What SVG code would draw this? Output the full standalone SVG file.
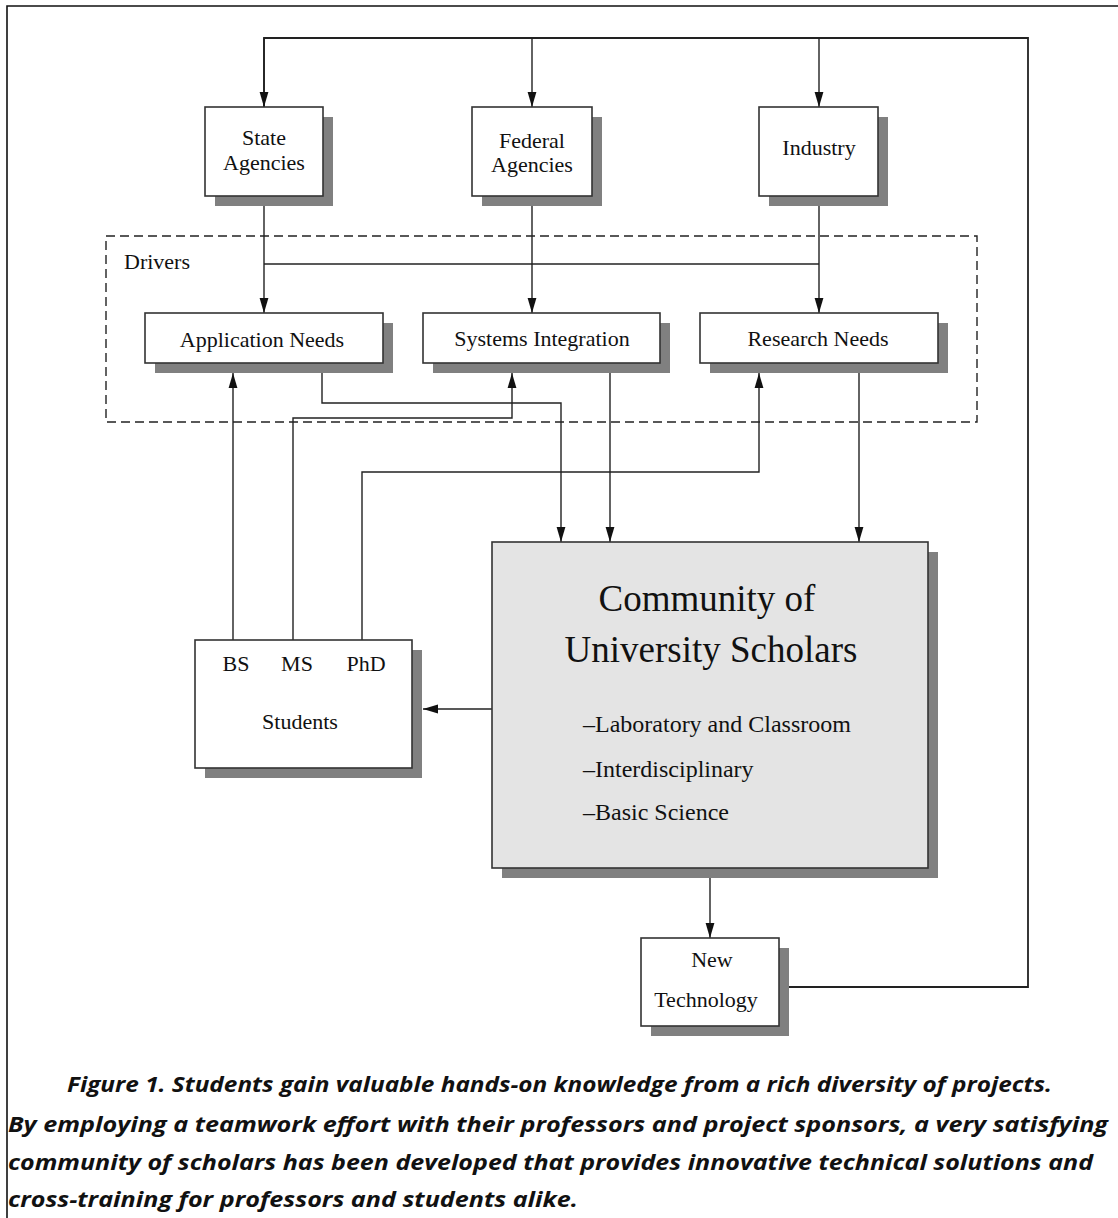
<svg xmlns="http://www.w3.org/2000/svg" width="1118" height="1218" viewBox="0 0 1118 1218">
<defs>
<marker id="ah" markerUnits="userSpaceOnUse" markerWidth="15" markerHeight="10" refX="15" refY="5" orient="auto" viewBox="0 0 15 10">
<path d="M0,0.6 L15,5 L0,9.4 Z" fill="#111"/>
</marker>
</defs>
<style>
.box{fill:#fff;stroke:#333;stroke-width:1.6}
.shadow{fill:#808080}
.lbl{font-family:"Liberation Serif","Times New Roman",serif;font-size:22px;fill:#111;text-anchor:middle}
.conn{fill:none;stroke:#222;stroke-width:1.4}
.arr{marker-end:url(#ah)}
.cap{font-family:"Open Sans","Liberation Sans",sans-serif;font-weight:700;font-style:italic;font-size:21px;fill:#111}
</style>
<rect width="1118" height="1218" fill="#fff"/>
<g id="frame" fill="none" stroke="#111" stroke-width="1.6">
<path d="M7,1218 L7,6 L1118,6"/>
</g>
<g id="drivers">
<rect x="106" y="236" width="871" height="186" fill="none" stroke="#222" stroke-width="1.4" stroke-dasharray="9,5"/>
<text class="lbl" x="124" y="269" style="text-anchor:start">Drivers</text>
</g>
<g id="connectors">
<path class="conn" d="M264,107 L264,38 L1028,38 L1028,987 L789,987" style="stroke-width:1.8"/>
<path class="conn arr" d="M264,38 L264,107"/>
<path class="conn arr" d="M532,38 L532,107"/>
<path class="conn arr" d="M819,38 L819,107"/>
<path class="conn" d="M264,264 L819,264"/>
<path class="conn arr" d="M264,196 L264,313"/>
<path class="conn arr" d="M532,196 L532,313"/>
<path class="conn arr" d="M819,196 L819,313"/>
<path class="conn arr" d="M233,641 L233,373"/>
<path class="conn arr" d="M293,641 L293,418 L512,418 L512,373"/>
<path class="conn arr" d="M362,641 L362,472 L759,472 L759,373"/>
<path class="conn arr" d="M322,363 L322,403 L561,403 L561,542"/>
<path class="conn arr" d="M610,363 L610,542"/>
<path class="conn arr" d="M859,363 L859,542"/>
<path class="conn arr" d="M492,709 L423,709"/>
<path class="conn arr" d="M710,878 L710,938"/>
</g>
<g id="state-agencies">
<rect class="shadow" x="215" y="117" width="118" height="89"/>
<rect class="box" x="205" y="107" width="118" height="89"/>
<text class="lbl" x="264" y="145">State</text>
<text class="lbl" x="264" y="170">Agencies</text>
</g>
<g id="federal-agencies">
<rect class="shadow" x="482" y="117" width="120" height="89"/>
<rect class="box" x="472" y="107" width="120" height="89"/>
<text class="lbl" x="532" y="148">Federal</text>
<text class="lbl" x="532" y="172">Agencies</text>
</g>
<g id="industry">
<rect class="shadow" x="769" y="117" width="119" height="89"/>
<rect class="box" x="759" y="107" width="119" height="89"/>
<text class="lbl" x="819" y="155">Industry</text>
</g>
<g id="application-needs">
<rect class="shadow" x="155" y="323" width="238" height="50"/>
<rect class="box" x="145" y="313" width="238" height="50"/>
<text class="lbl" x="262" y="347">Application Needs</text>
</g>
<g id="systems-integration">
<rect class="shadow" x="433" y="323" width="237" height="50"/>
<rect class="box" x="423" y="313" width="237" height="50"/>
<text class="lbl" x="542" y="346">Systems Integration</text>
</g>
<g id="research-needs">
<rect class="shadow" x="710" y="323" width="238" height="50"/>
<rect class="box" x="700" y="313" width="238" height="50"/>
<text class="lbl" x="818" y="346">Research Needs</text>
</g>
<g id="community">
<rect class="shadow" x="502" y="552" width="436" height="326"/>
<rect class="box" x="492" y="542" width="436" height="326" style="fill:#e4e4e4"/>
<text class="lbl" x="707" y="611" style="font-size:37px">Community of</text>
<text class="lbl" x="711" y="662" style="font-size:37px">University Scholars</text>
<text class="lbl" x="583" y="732" style="text-anchor:start;font-size:24px">–Laboratory and Classroom</text>
<text class="lbl" x="583" y="777" style="text-anchor:start;font-size:24px">–Interdisciplinary</text>
<text class="lbl" x="583" y="820" style="text-anchor:start;font-size:24px">–Basic Science</text>
</g>
<g id="students">
<rect class="shadow" x="205" y="650" width="217" height="128"/>
<rect class="box" x="195" y="640" width="217" height="128"/>
<text class="lbl" x="236" y="671">BS</text>
<text class="lbl" x="297" y="671">MS</text>
<text class="lbl" x="366" y="671">PhD</text>
<text class="lbl" x="300" y="729">Students</text>
</g>
<g id="new-technology">
<rect class="shadow" x="651" y="948" width="138" height="88"/>
<rect class="box" x="641" y="938" width="138" height="88"/>
<text class="lbl" x="712" y="967">New</text>
<text class="lbl" x="706" y="1007">Technology</text>
</g>
<g id="caption">
<text class="cap" x="67" y="1092" textLength="985" lengthAdjust="spacingAndGlyphs">Figure 1. Students gain valuable hands-on knowledge from a rich diversity of projects.</text>
<text class="cap" x="8" y="1132" textLength="1100" lengthAdjust="spacingAndGlyphs">By employing a teamwork effort with their professors and project sponsors, a very satisfying</text>
<text class="cap" x="8" y="1170" textLength="1085" lengthAdjust="spacingAndGlyphs">community of scholars has been developed that provides innovative technical solutions and</text>
<text class="cap" x="8" y="1207" textLength="570" lengthAdjust="spacingAndGlyphs">cross-training for professors and students alike.</text>
</g>
</svg>
